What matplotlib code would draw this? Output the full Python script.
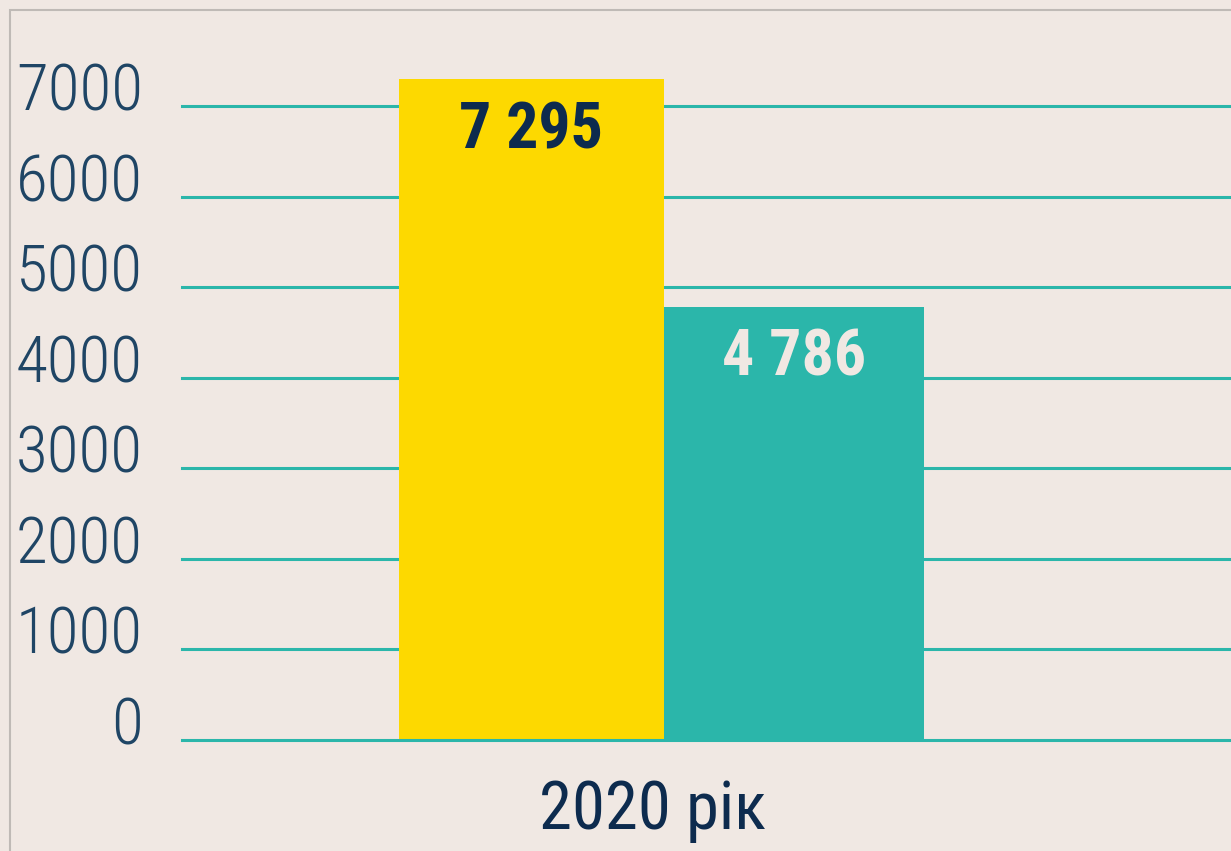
import matplotlib
matplotlib.use('Agg')
import numpy as np
import matplotlib.pyplot as plt
from matplotlib import font_manager
from matplotlib.patches import Rectangle
from matplotlib.transforms import ScaledTranslation

# data
categories = ['2020 рік']
series_values = [7295, 4786]
value_labels = ['7 295', '4 786']
yticks = [0, 1000, 2000, 3000, 4000, 5000, 6000, 7000]

BG = '#F0E8E3'
YELLOW = '#FDD900'
TEAL = '#2BB6AA'
NAVY = '#0D2B4E'
TICKC = '#1F4565'


def pick_font():
    # look for a condensed face, fall back to Roboto
    names = {f.name for f in font_manager.fontManager.ttflist}
    for n in ['Roboto Condensed', 'Liberation Sans Narrow', 'DejaVu Sans Condensed']:
        if n in names:
            return n, 'normal'
    for f in font_manager.fontManager.ttflist:
        if f.name == 'DejaVu Sans' and f.stretch == 'condensed':
            return 'DejaVu Sans', 'condensed'
    return 'Roboto', 'normal'


fam, stretch = pick_font()

fig = plt.figure(figsize=(12.31, 8.51), dpi=100, facecolor=BG)
W, H = 1231, 851
ax = fig.add_axes([182 / W, (H - 740) / H, (W - 182) / W, (740 - 40) / H])
ax.set_facecolor(BG)

xs = np.array([-0.125, 0.125])
colors = [YELLOW, TEAL]
ax.bar(xs, series_values, width=[265 / 1052, 260 / 1052], color=colors, zorder=3)
ax.set_xlim(-0.457, 0.540)
ax.set_ylim(0, 7000 * 700 / 634)

for y in yticks:
    ax.axhline(y, color=TEAL, lw=2.2, zorder=1 if y else 4, clip_on=False)

# value labels inside bar tops
txtcol = [NAVY, BG]
for x, v, lab, c in zip(xs, series_values, value_labels, txtcol):
    ax.annotate(lab, (x, v), xytext=(0, -37), textcoords='offset points',
                ha='center', va='center', fontsize=46, fontweight='bold',
                color=c, family=fam, fontstretch=stretch, zorder=5)

ax.set_yticks(yticks)
ax.set_yticklabels([str(t) for t in yticks])
ax.tick_params(axis='y', length=0, pad=28, labelsize=47, labelcolor=TICKC)
for lab in ax.get_yticklabels():
    lab.set_family(fam)
    lab.set_fontstretch(stretch)
    lab.set_fontweight('light')
    lab.set_transform(lab.get_transform() + ScaledTranslation(0, 0.2, fig.dpi_scale_trans))

ax.set_xticks([-0.01])
ax.set_xticklabels(categories)
ax.tick_params(axis='x', length=0, pad=28, labelsize=48, labelcolor=NAVY)
for lab in ax.get_xticklabels():
    lab.set_family(fam)
    lab.set_fontstretch(stretch)

for s in ax.spines.values():
    s.set_visible(False)

# thin grey frame at top and left
fig.patches.append(Rectangle((10 / W, -0.1), 1.2, (H - 10) / H + 0.1,
                             transform=fig.transFigure, fill=False,
                             edgecolor='#BFBAB6', lw=1.5))

fig.savefig('out.png', dpi=100, facecolor=BG)
